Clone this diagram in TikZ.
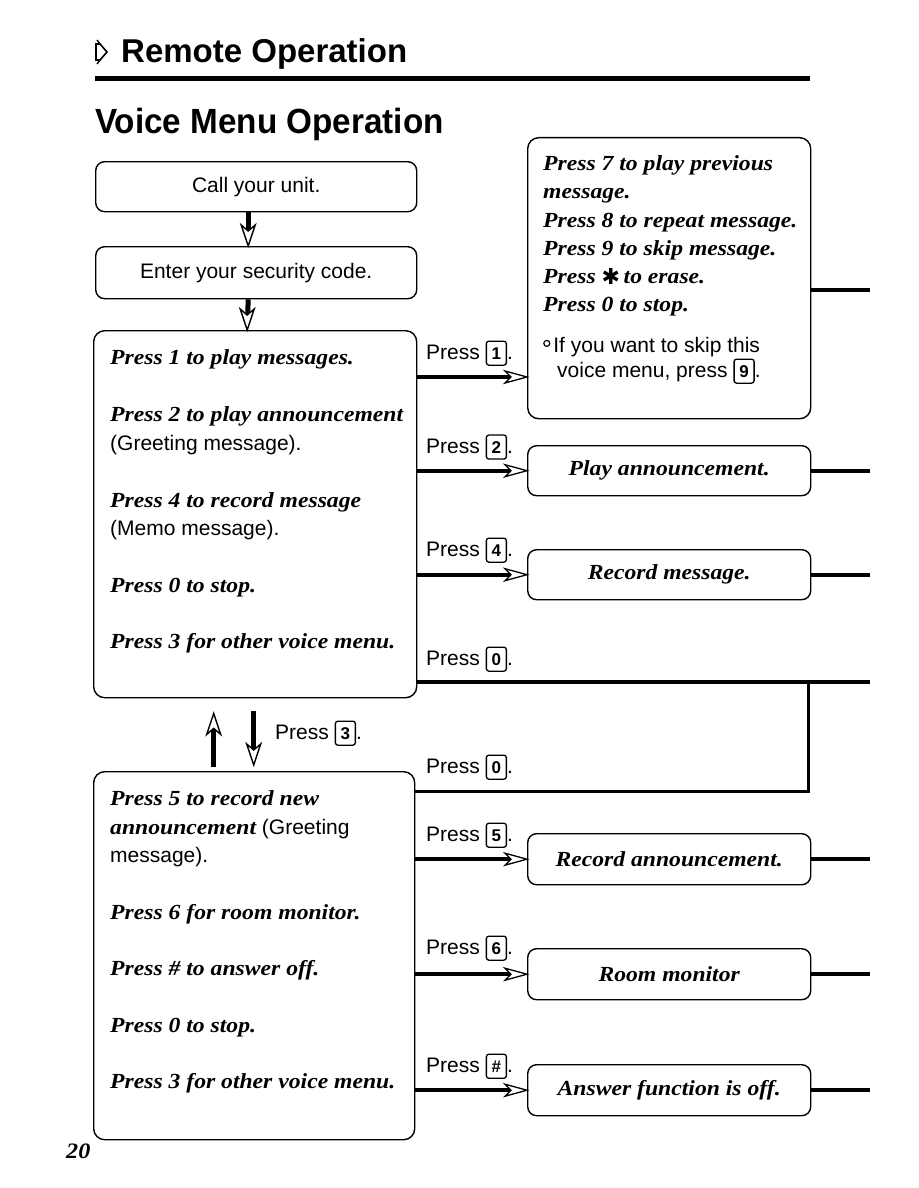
\documentclass[tikz,border=0pt]{standalone}
\usepackage{fontspec}
\setmainfont{Liberation Serif}
\setsansfont{Liberation Sans}
\newfontfamily\symfont{DejaVu Sans}
\newfontfamily\wser[FakeStretch=1.1]{Liberation Serif}
\newfontfamily\hsans[FakeStretch=0.95]{Liberation Sans}
\usetikzlibrary{arrows.meta}
\newcommand{\sbi}{\normalfont\wser\bfseries\itshape\fontsize{21.5}{26}\selectfont}
\newcommand{\ssf}{\normalfont\sffamily\fontsize{21}{25}\selectfont}
\newcommand{\kb}[1]{\tikz[baseline=(kk.base)]\node[draw,line width=1.3pt,rounded corners=2.5pt,inner sep=0pt,minimum width=20pt,minimum height=24pt,font=\normalfont\sffamily\bfseries\fontsize{17}{17}\selectfont,anchor=base](kk){#1};}
\newcommand{\bul}{\raisebox{5pt}{\tikz\draw[line width=1.2pt] (0pt,0pt) circle (3pt);}\hspace{3pt}}
\tikzset{
  htip/.pic={\draw[line width=1.3pt,fill=white,line join=miter] (0pt,0pt) -- (-22pt,-6pt) -- (-16pt,0pt) -- (-22pt,6pt) -- cycle;},
  vtip/.pic={\draw[line width=1.4pt,fill=white,line join=miter] (0pt,0pt) -- (-21pt,-7pt) -- (-15pt,0pt) -- (-21pt,7pt) -- cycle;},
}
\begin{document}
\begin{tikzpicture}[x=1pt,y=-1pt,
  box/.style={draw,line width=1.4pt,rounded corners=11pt,inner sep=0pt,anchor=north west},
  tl/.style={anchor=base west,inner sep=0pt,font=\sbi},
  sl/.style={anchor=base west,inner sep=0pt,font=\ssf},
  hstem/.style={line width=3.8pt,shorten >=16pt},
  vstem/.style={line width=5pt,shorten >=15pt},
  link/.style={line width=3.6pt},
]
\useasboundingbox (0,0) rectangle (918,1188);

% header
\draw[line width=1.6pt,line join=miter] (96,44) -- (100,44) -- (107,52) -- (100,60) -- (96,60) -- cycle;
\draw[line width=1.4pt] (97,40) -- (100,44) (97,64) -- (100,60);
\node[anchor=base west,inner sep=0pt,font=\sffamily\bfseries\fontsize{33}{36}\selectfont] (h1) at (121,63) {Remote Operation};
\draw[line width=5pt] (95,79) -- (810,79);
\node[anchor=base west,inner sep=0pt,font=\hsans\bfseries\fontsize{35}{38}\selectfont] (h2) at (95,134) {Voice Menu Operation};

% left column boxes
\node[box,rounded corners=9pt,minimum width=321pt,minimum height=50pt,font=\ssf] (call) at (95,161) {Call your unit.};
\node[box,rounded corners=9pt,minimum width=321pt,minimum height=52pt,font=\ssf] (enter) at (95,246) {Enter your security code.};
\node[box,minimum width=323pt,minimum height=367pt] (b1box) at (93,330) {};
\node[box,minimum width=321pt,minimum height=368pt] (b2box) at (93,771) {};

% right column boxes
\node[box,minimum width=283pt,minimum height=281pt] (menu) at (527,137) {};
\node[box,rounded corners=9pt,minimum width=283pt,minimum height=50pt,font=\sbi] (play) at (527,445) {Play announcement.};
\node[box,rounded corners=9pt,minimum width=283pt,minimum height=50pt,font=\sbi] (rec) at (527,549) {Record message.};
\node[box,rounded corners=9pt,minimum width=283pt,minimum height=51pt,font=\sbi] (recann) at (527,833) {Record announcement.};
\node[box,rounded corners=9pt,minimum width=283pt,minimum height=51pt,font=\sbi] (room) at (527,948) {Room monitor};
\node[box,rounded corners=9pt,minimum width=283pt,minimum height=51pt,font=\sbi] (ansoff) at (527,1064) {Answer function is off.};

% box 1 text
\node[tl] (a1) at (110,364) {Press 1 to play messages.};
\node[tl] (a2) at (110,421) {Press 2 to play announcement};
\node[sl] (a3) at (110,450) {(Greeting message).};
\node[tl] (a4) at (110,507) {Press 4 to record message};
\node[sl] (a5) at (110,535) {(Memo message).};
\node[tl] (a6) at (110,592) {Press 0 to stop.};
\node[tl] (a7) at (110,648) {Press 3 for other voice menu.};

% menu box text
\node[tl] (m1) at (543,170) {Press 7 to play previous};
\node[tl] (m2) at (543,198) {message.};
\node[tl] (m3) at (543,227) {Press 8 to repeat message.};
\node[tl] (m4) at (543,255) {Press 9 to skip message.};
\node[tl] (m5) at (543,283) {Press {\symfont\bfseries\fontsize{22}{22}\selectfont\raisebox{-1pt}{✱}}\,to erase.};
\node[tl] (m6) at (543,311) {Press 0 to stop.};
\node[sl] (m7) at (543,352) {\bul If you want to skip this};
\node[sl] (m8) at (557,377) {voice menu, press \kb{9}.};

% box 2 text
\node[tl] (c1t) at (110,805) {Press 5 to record new};
\node[tl] (c2t) at (110,834) {announcement {\ssf (Greeting}};
\node[sl] (c3t) at (110,862) {message).};
\node[tl] (c4t) at (110,919) {Press 6 for room monitor.};
\node[tl] (c5t) at (110,975) {Press \# to answer off.};
\node[tl] (c6t) at (110,1032) {Press 0 to stop.};
\node[tl] (c7t) at (110,1088) {Press 3 for other voice menu.};

% press labels
\node[sl] (p1) at (426,359) {Press \kb{1}.};
\node[sl] (p2) at (426,453) {Press \kb{2}.};
\node[sl] (p4) at (426,556) {Press \kb{4}.};
\node[sl] (p0a) at (426,665) {Press \kb{0}.};
\node[sl] (p3) at (275,739) {Press \kb{3}.};
\node[sl] (p0b) at (426,773) {Press \kb{0}.};
\node[sl] (p5) at (426,841) {Press \kb{5}.};
\node[sl] (p6) at (426,954) {Press \kb{6}.};
\node[sl] (ph) at (426,1072) {Press \kb{\#}.};

% vertical arrows
\coordinate (v1a) at ([xshift=-8pt]call.south);
\coordinate (v1b) at ([xshift=-8pt]enter.north);
\coordinate (v2a) at ([xshift=-8pt]enter.south);
\coordinate (v2b) at ([xshift=-8pt]b1box.north);
\coordinate (v3a) at ([xshift=-1.5pt,yshift=-13pt]b1box.south);
\coordinate (v3b) at ([xshift=-0.5pt,yshift=6pt]b2box.north);
\coordinate (v4a) at ([xshift=-40.5pt,yshift=4pt]b2box.north);
\coordinate (v4b) at ([xshift=-41.5pt,yshift=-15pt]b1box.south);
\draw[vstem] (v1a) -- (v1b); \pic[rotate=-90] at (v1b) {vtip};
\draw[vstem] (v2a) -- (v2b); \pic[rotate=-90] at (v2b) {vtip};
\draw[vstem] (v3a) -- (v3b); \pic[rotate=-90] at (v3b) {vtip};
\draw[vstem] (v4a) -- (v4b); \pic[rotate=90] at (v4b) {vtip};

% horizontal arrows
\draw[hstem] (b1box.east |- 0,377) -- (menu.west |- 0,377); \pic at (menu.west |- 0,377) {htip};
\draw[hstem] (b1box.east |- play.west) -- (play.west); \pic at (play.west) {htip};
\draw[hstem] (b1box.east |- rec.west) -- (rec.west); \pic at (rec.west) {htip};
\draw[hstem] (b2box.east |- recann.west) -- (recann.west); \pic at (recann.west) {htip};
\draw[hstem] (b2box.east |- room.west) -- (room.west); \pic at (room.west) {htip};
\draw[hstem] (b2box.east |- ansoff.west) -- (ansoff.west); \pic at (ansoff.west) {htip};

% right-hand lines
\coordinate (e0) at (870,290);
\coordinate (e1) at (play.east -| 870,0);
\coordinate (e2) at (rec.east -| 870,0);
\coordinate (e3) at (recann.east -| 870,0);
\coordinate (e4) at (room.east -| 870,0);
\coordinate (e5) at (ansoff.east -| 870,0);
\draw[link] (menu.east |- e0) -- (e0);
\draw[link] (play.east) -- (e1);
\draw[link] (rec.east) -- (e2);
\draw[link] (recann.east) -- (e3);
\draw[link] (room.east) -- (e4);
\draw[link] (ansoff.east) -- (e5);

% press 0 loop
\coordinate (z0) at (870,682);
\coordinate (k1) at (808,682);
\coordinate (k2) at (808,791);
\draw[link] (b1box.east |- z0) -- (z0);
\draw[line width=3pt] (k1) -- (k2) -- (b2box.east |- k2);

% page number
\node[anchor=base west,inner sep=0pt,font=\wser\bfseries\itshape\fontsize{22}{22}\selectfont] (pg) at (66,1158) {20};
\end{tikzpicture}
\end{document}
